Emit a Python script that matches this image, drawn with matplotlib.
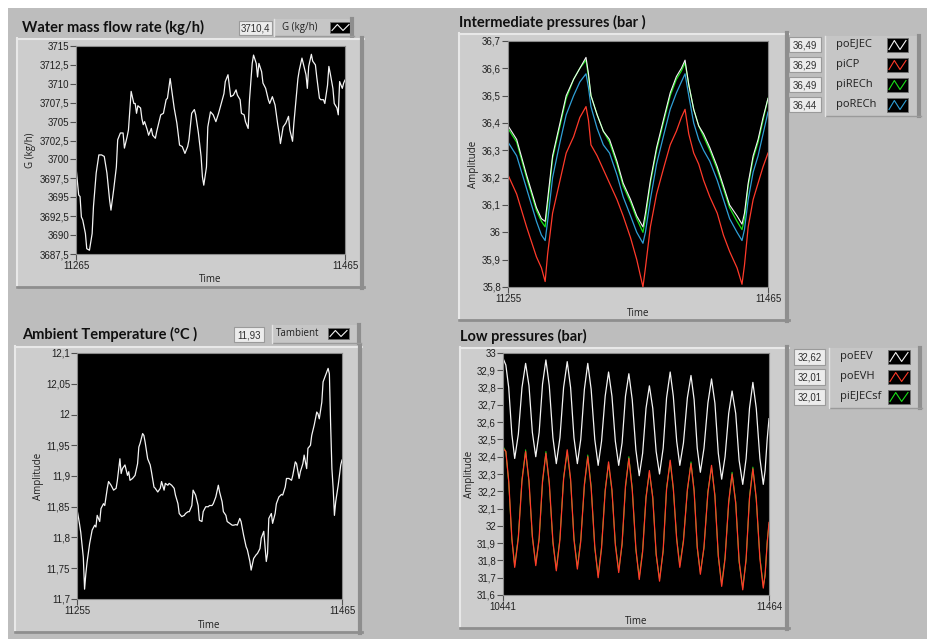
import numpy as np
import matplotlib.pyplot as plt
from matplotlib.patches import Rectangle
from matplotlib.ticker import FuncFormatter

# --------------- DATA ---------------
# Water mass flow rate
t_flow = [11265, 11267, 11268, 11269, 11270, 11272, 11273, 11275, 11277, 11278,
          11280, 11282, 11284, 11286, 11288, 11290, 11291, 11293, 11295, 11296,
          11298, 11300, 11301, 11303, 11304, 11306, 11308, 11309, 11310, 11311,
          11313, 11314, 11315, 11316, 11318, 11319, 11321, 11322, 11324, 11325,
          11327, 11328, 11330, 11332, 11333, 11335, 11336, 11338, 11340, 11342,
          11344, 11346, 11348, 11349, 11351, 11353, 11354, 11356, 11358, 11359,
          11360, 11362, 11363, 11365, 11367, 11369, 11371, 11373, 11375, 11376,
          11378, 11379, 11380, 11382, 11384, 11385, 11387, 11388, 11390, 11391,
          11393, 11394, 11396, 11397, 11399, 11400, 11401, 11403, 11404, 11406,
          11408, 11409, 11411, 11413, 11415, 11416, 11417, 11419, 11421, 11423,
          11424, 11426, 11427, 11429, 11430, 11431, 11433, 11435, 11436, 11437,
          11438, 11440, 11441, 11443, 11444, 11446, 11447, 11449, 11450, 11452,
          11453, 11454, 11456, 11457, 11459, 11460, 11461, 11463, 11464, 11465]
g_flow = [3699.0, 3695.3, 3695.1, 3692.4, 3692.0, 3690.2, 3688.2, 3688.0, 3690.2, 3693.8,
          3698.2, 3700.6, 3700.6, 3700.4, 3698.2, 3694.6, 3693.3, 3696.0, 3699.0, 3702.6,
          3703.5, 3703.5, 3701.5, 3703.0, 3703.9, 3709.0, 3707.4, 3707.4, 3706.1, 3707.1,
          3706.8, 3705.4, 3704.6, 3705.0, 3703.9, 3703.2, 3704.1, 3703.2, 3702.8, 3703.7,
          3705.2, 3705.9, 3706.1, 3707.9, 3708.1, 3710.7, 3709.4, 3706.8, 3704.8, 3701.9,
          3701.7, 3700.8, 3701.7, 3702.6, 3706.1, 3706.6, 3705.9, 3703.5, 3700.4, 3697.7,
          3696.6, 3699.0, 3704.3, 3706.3, 3705.9, 3705.0, 3706.1, 3707.4, 3708.7, 3710.3,
          3711.2, 3709.8, 3708.3, 3708.5, 3709.2, 3708.5, 3707.9, 3706.1, 3705.9, 3705.0,
          3704.1, 3707.9, 3712.7, 3713.8, 3712.7, 3710.9, 3712.7, 3711.6, 3710.1, 3709.4,
          3707.9, 3707.4, 3708.3, 3707.2, 3704.6, 3703.5, 3702.1, 3704.3, 3704.8, 3705.7,
          3703.9, 3702.4, 3704.8, 3708.7, 3710.7, 3711.8, 3713.4, 3711.9, 3711.2, 3709.4,
          3712.3, 3713.9, 3713.0, 3712.5, 3710.9, 3708.1, 3707.9, 3707.9, 3707.4, 3709.8,
          3712.3, 3711.4, 3709.4, 3707.4, 3706.8, 3705.9, 3710.3, 3709.4, 3710.1, 3710.5]

# Intermediate pressures
t_inter = [11255, 11262, 11270, 11278, 11282, 11285, 11287, 11291, 11297, 11302,
           11308, 11313, 11318, 11320, 11322, 11327, 11332, 11337, 11343, 11348,
           11354, 11359, 11364, 11366, 11370, 11375, 11381, 11386, 11391, 11395,
           11398, 11401, 11405, 11409, 11413, 11418, 11424, 11429, 11434, 11440,
           11444, 11446, 11449, 11453, 11457, 11461, 11465]
po_ejec = [36.39, 36.34, 36.21, 36.09, 36.05, 36.04, 36.12, 36.28, 36.40, 36.50,
           36.56, 36.60, 36.64, 36.58, 36.50, 36.43, 36.37, 36.34, 36.26, 36.18,
           36.12, 36.06, 36.02, 36.07, 36.19, 36.31, 36.42, 36.51, 36.57, 36.60,
           36.63, 36.54, 36.45, 36.39, 36.36, 36.31, 36.24, 36.17, 36.10, 36.06,
           36.03, 36.07, 36.18, 36.28, 36.34, 36.42, 36.49]
pi_cp = [36.21, 36.14, 36.02, 35.91, 35.87, 35.82, 35.92, 36.07, 36.19, 36.29,
         36.35, 36.42, 36.46, 36.41, 36.32, 36.28, 36.23, 36.18, 36.12, 36.06,
         35.98, 35.90, 35.80, 35.87, 36.02, 36.14, 36.24, 36.32, 36.37, 36.42,
         36.45, 36.36, 36.29, 36.25, 36.19, 36.13, 36.07, 35.99, 35.93, 35.87,
         35.81, 35.88, 36.02, 36.12, 36.18, 36.24, 36.29]
pi_rech = [36.38, 36.33, 36.20, 36.08, 36.04, 36.02, 36.10, 36.27, 36.39, 36.49,
           36.56, 36.60, 36.63, 36.57, 36.50, 36.43, 36.37, 36.33, 36.25, 36.17,
           36.11, 36.05, 36.00, 36.05, 36.18, 36.30, 36.41, 36.50, 36.56, 36.59,
           36.62, 36.54, 36.45, 36.39, 36.35, 36.30, 36.23, 36.16, 36.09, 36.04,
           36.01, 36.05, 36.17, 36.27, 36.33, 36.41, 36.49]
po_rech = [36.33, 36.28, 36.16, 36.04, 35.99, 35.97, 36.04, 36.20, 36.33, 36.43,
           36.50, 36.55, 36.58, 36.53, 36.46, 36.38, 36.32, 36.29, 36.21, 36.13,
           36.06, 36.00, 35.96, 36.00, 36.12, 36.25, 36.36, 36.45, 36.51, 36.55,
           36.58, 36.50, 36.40, 36.34, 36.30, 36.26, 36.19, 36.12, 36.05, 36.00,
           35.97, 36.01, 36.12, 36.22, 36.28, 36.36, 36.44]

# Ambient temperature
t_amb = [11255, 11257, 11258, 11260, 11261, 11262, 11263, 11265, 11267, 11269,
         11270, 11271, 11273, 11274, 11276, 11277, 11279, 11280, 11282, 11284,
         11286, 11287, 11289, 11290, 11291, 11293, 11295, 11296, 11297, 11299,
         11301, 11303, 11304, 11305, 11307, 11308, 11309, 11311, 11313, 11314,
         11316, 11317, 11319, 11321, 11322, 11324, 11325, 11327, 11328, 11330,
         11332, 11333, 11335, 11336, 11338, 11340, 11341, 11343, 11344, 11346,
         11347, 11349, 11351, 11352, 11354, 11355, 11357, 11359, 11360, 11362,
         11363, 11365, 11367, 11368, 11370, 11371, 11373, 11374, 11376, 11378,
         11379, 11381, 11382, 11384, 11385, 11387, 11389, 11390, 11392, 11393,
         11395, 11397, 11398, 11400, 11401, 11403, 11405, 11406, 11407, 11409,
         11410, 11412, 11413, 11415, 11417, 11418, 11420, 11421, 11423, 11425,
         11426, 11428, 11429, 11431, 11432, 11434, 11435, 11437, 11438, 11440,
         11441, 11443, 11445, 11446, 11447, 11449, 11450, 11452, 11454, 11455,
         11456, 11457, 11458, 11459, 11460, 11462, 11464, 11465]
t_ambient = [11.846, 11.822, 11.808, 11.768, 11.716, 11.741, 11.760, 11.790, 11.812, 11.820,
             11.817, 11.836, 11.826, 11.847, 11.855, 11.852, 11.880, 11.891, 11.885, 11.877,
             11.880, 11.893, 11.928, 11.904, 11.912, 11.918, 11.901, 11.907, 11.893, 11.896,
             11.901, 11.920, 11.947, 11.953, 11.969, 11.966, 11.955, 11.928, 11.918, 11.907,
             11.882, 11.880, 11.874, 11.880, 11.891, 11.877, 11.888, 11.885, 11.888, 11.885,
             11.880, 11.869, 11.855, 11.839, 11.834, 11.836, 11.839, 11.842, 11.842, 11.852,
             11.877, 11.869, 11.852, 11.828, 11.826, 11.842, 11.850, 11.850, 11.852, 11.852,
             11.855, 11.866, 11.885, 11.874, 11.858, 11.842, 11.836, 11.826, 11.823, 11.820,
             11.820, 11.821, 11.820, 11.831, 11.826, 11.804, 11.785, 11.780, 11.761, 11.747,
             11.766, 11.772, 11.774, 11.782, 11.799, 11.810, 11.761, 11.774, 11.831, 11.839,
             11.823, 11.839, 11.855, 11.866, 11.870, 11.869, 11.882, 11.896, 11.896, 11.893,
             11.901, 11.923, 11.920, 11.896, 11.907, 11.920, 11.934, 11.912, 11.945, 11.950,
             11.966, 11.983, 12.004, 12.001, 11.993, 12.020, 12.053, 12.064, 12.075, 12.066,
             11.983, 11.912, 11.880, 11.836, 11.858, 11.885, 11.918, 11.926]

# Low pressures
t_low = [10441, 10452, 10463, 10475, 10486, 10500, 10514, 10528, 10541, 10554,
         10567, 10580, 10593, 10606, 10619, 10633, 10646, 10660, 10674, 10688,
         10701, 10714, 10727, 10740, 10754, 10767, 10780, 10794, 10807, 10820,
         10834, 10847, 10860, 10873, 10886, 10899, 10912, 10925, 10938, 10952,
         10965, 10978, 10991, 11004, 11017, 11030, 11043, 11057, 11070, 11084,
         11096, 11109, 11121, 11135, 11150, 11164, 11176, 11188, 11200, 11214,
         11229, 11243, 11256, 11269, 11282, 11295, 11309, 11322, 11336, 11349,
         11363, 11376, 11389, 11402, 11415, 11429, 11442, 11449, 11457, 11464]
po_eev = [32.97, 32.93, 32.80, 32.53, 32.39, 32.53, 32.80, 32.94, 32.81, 32.54,
          32.40, 32.54, 32.82, 32.96, 32.81, 32.51, 32.36, 32.51, 32.80, 32.95,
          32.80, 32.51, 32.36, 32.50, 32.79, 32.94, 32.79, 32.50, 32.35, 32.49,
          32.75, 32.89, 32.75, 32.49, 32.35, 32.48, 32.75, 32.88, 32.73, 32.44,
          32.29, 32.42, 32.68, 32.81, 32.68, 32.43, 32.30, 32.45, 32.74, 32.89,
          32.75, 32.49, 32.35, 32.48, 32.74, 32.87, 32.73, 32.45, 32.31, 32.45,
          32.71, 32.85, 32.71, 32.42, 32.27, 32.40, 32.65, 32.78, 32.65, 32.38,
          32.24, 32.39, 32.68, 32.83, 32.68, 32.39, 32.24, 32.32, 32.50, 32.62]
po_evh = [32.45, 32.43, 32.26, 31.93, 31.76, 31.93, 32.26, 32.43, 32.26, 31.94,
          31.77, 31.93, 32.26, 32.42, 32.25, 31.91, 31.74, 31.92, 32.27, 32.44,
          32.27, 31.92, 31.75, 31.91, 32.24, 32.40, 32.22, 31.88, 31.70, 31.87,
          32.20, 32.37, 32.21, 31.89, 31.73, 31.90, 32.23, 32.39, 32.21, 31.87,
          31.69, 31.85, 32.16, 32.32, 32.16, 31.84, 31.68, 31.86, 32.21, 32.38,
          32.22, 31.92, 31.76, 31.91, 32.21, 32.36, 32.20, 31.88, 31.72, 31.88,
          32.19, 32.35, 32.17, 31.83, 31.65, 31.81, 32.14, 32.30, 32.13, 31.80,
          31.63, 31.81, 32.16, 32.33, 32.16, 31.81, 31.64, 31.72, 31.90, 32.02]
pi_ejecsf = [32.46, 32.43, 32.25, 31.92, 31.77, 31.94, 32.27, 32.44, 32.25, 31.93,
             31.78, 31.92, 32.25, 32.43, 32.24, 31.90, 31.75, 31.93, 32.28, 32.43,
             32.26, 31.93, 31.76, 31.92, 32.23, 32.41, 32.23, 31.87, 31.71, 31.88,
             32.21, 32.36, 32.20, 31.90, 31.74, 31.89, 32.22, 32.40, 32.22, 31.86,
             31.70, 31.86, 32.17, 32.31, 32.17, 31.83, 31.69, 31.85, 32.22, 32.37,
             32.21, 31.93, 31.77, 31.92, 32.20, 32.37, 32.21, 31.87, 31.73, 31.87,
             32.20, 32.34, 32.18, 31.82, 31.66, 31.82, 32.13, 32.31, 32.14, 31.79,
             31.64, 31.80, 32.17, 32.34, 32.15, 31.82, 31.65, 31.71, 31.91, 32.01]

# --------------- STYLE ---------------
WHITE, RED, GREEN, BLUE = '#f4f4f4', '#ff3a2a', '#19e019', '#2f9fd6'
W, H = 928, 639
tick_font = ['Liberation Sans', 'DejaVu Sans']
plt.rcParams['font.family'] = ['Open Sans', 'DejaVu Sans']

fig = plt.figure(figsize=(W / 100, H / 100), dpi=100)
fig.patch.set_facecolor('white')
bg = fig.add_axes([0, 0, 1, 1])
bg.set_xlim(0, W)
bg.set_ylim(H, 0)
bg.axis('off')
bg.add_patch(Rectangle((8, 8), W - 8, H - 8, facecolor='#bdbdbd', edgecolor='none'))

comma = FuncFormatter(lambda v, p: ('%g' % round(v, 4)).replace('.', ','))


def px_axes(x0, y0, x1, y1):
    return fig.add_axes([x0 / W, 1 - y1 / H, (x1 - x0) / W, (y1 - y0) / H])


def frame(x0, y0, x1, y1):
    bg.add_patch(Rectangle((x0, y0), x1 - x0, y1 - y0, facecolor='#cdcdcd', edgecolor='none'))
    bg.plot([x0, x1], [y0 + 0.5, y0 + 0.5], color='#e8e8e8', lw=1.5)
    bg.plot([x0 + 0.5, x0 + 0.5], [y0, y1], color='#e8e8e8', lw=1.5)
    bg.plot([x1 - 1.5, x1 - 1.5], [y0, y1], color='#8e8e8e', lw=3)
    bg.plot([x0, x1], [y1 - 1, y1 - 1], color='#8e8e8e', lw=2)


def indicator(x0, y0, x1, y1, txt):
    bg.add_patch(Rectangle((x0, y0), x1 - x0, y1 - y0, facecolor='#ececec',
                           edgecolor='#9a9a9a', lw=0.8))
    bg.text((x0 + x1) / 2, (y0 + y1) / 2 + 0.5, txt, ha='center', va='center',
            fontsize=7, color='#303030', family=tick_font)


def icon(x0, y0, x1, y1, color):
    bg.add_patch(Rectangle((x0, y0), x1 - x0, y1 - y0, facecolor='black', edgecolor='#707070', lw=0.6))
    w = x1 - x0
    bg.plot([x0 + 2, x0 + w * 0.35, x0 + w * 0.62, x1 - 2],
            [y1 - 2.5, y0 + 2.5, y1 - 2.5, y0 + 2.5], color=color, lw=0.8)


def legend_box(x0, y0, x1, y1):
    bg.add_patch(Rectangle((x0, y0), x1 - x0, y1 - y0, facecolor='#c6c6c6', edgecolor='none'))
    bg.plot([x1 - 1.5, x1 - 1.5], [y0, y1], color='#8e8e8e', lw=3)
    bg.plot([x0, x1], [y1 - 0.5, y1 - 0.5], color='#9a9a9a', lw=1)
    bg.plot([x0 + 0.5, x0 + 0.5], [y0, y1], color='#e4e4e4', lw=1)


def graph(box, xr, yr, ystep, ylabel, ylab_x, xlab_y):
    ax = px_axes(*box)
    ax.set_facecolor('black')
    ax.set_xlim(xr)
    ax.set_ylim(yr)
    ax.set_xticks(xr)
    ax.set_yticks(np.round(np.arange(yr[0], yr[1] + ystep / 2, ystep), 4))
    ax.yaxis.set_major_formatter(comma)
    ax.xaxis.set_major_formatter(FuncFormatter(lambda v, p: '%d' % v))
    ax.tick_params(length=4, width=0.8, color='#505050', pad=1, labelsize=7, labelcolor='#202020')
    for lab in ax.get_xticklabels() + ax.get_yticklabels():
        lab.set_family(tick_font)
    for s in ax.spines.values():
        s.set_color('#8a8a8a')
        s.set_linewidth(0.8)
    x0, y0, x1, y1 = box
    bg.text((x0 + x1) / 2, xlab_y, 'Time', ha='center', va='center', fontsize=7, color='#202020')
    bg.text(ylab_x, (y0 + y1) / 2, ylabel, ha='center', va='center', rotation=90,
            fontsize=7, color='#202020')
    return ax


def title(x, y, txt):
    bg.text(x, y, txt, ha='left', va='center', fontsize=10.5, fontweight='bold', color='#101010',
            family=['Lato', 'DejaVu Sans'])


# --------------- PANEL 1: Water mass flow rate ---------------
title(22, 27, 'Water mass flow rate (kg/h)')
indicator(239, 21, 272, 35, '3710,4')
legend_box(274, 19, 354, 36)
bg.text(300, 27.5, 'G (kg/h)', ha='center', va='center', fontsize=7, color='#202020')
icon(330, 22, 351, 33, WHITE)
frame(17, 38, 364, 288)
ax1 = graph((76, 46, 345, 254), (11265, 11465), (3687.5, 3715), 2.5, 'G (kg/h)', 31, 279)
ax1.plot(t_flow, g_flow, color=WHITE, lw=0.9)

# --------------- PANEL 2: Intermediate pressures ---------------
title(459, 22, 'Intermediate pressures (bar )')
frame(459, 33, 789, 321)
ax2 = graph((508, 41, 768, 287), (11255, 11465), (35.8, 36.7), 0.1, 'Amplitude', 474, 313)
ax2.plot(t_inter, pi_cp, color=RED, lw=0.9)
ax2.plot(t_inter, po_rech, color=BLUE, lw=0.9)
ax2.plot(t_inter, pi_rech, color=GREEN, lw=0.9)
ax2.plot(t_inter, po_ejec, color=WHITE, lw=0.8)
names2 = ['poEJEC', 'piCP', 'piRECh', 'poRECh']
vals2 = ['36,49', '36,29', '36,49', '36,44']
cols2 = [WHITE, RED, GREEN, BLUE]
legend_box(825, 36, 921, 116)
for i, (n, v, c) in enumerate(zip(names2, vals2, cols2)):
    yc = 45 + 20 * i
    indicator(789, yc - 8, 821, yc + 7, v)
    bg.text(836, yc, n, ha='left', va='center', fontsize=8, color='#202020')
    icon(887, yc - 7, 908, yc + 7, c)

# --------------- PANEL 3: Ambient temperature ---------------
title(22, 334, 'Ambient Temperature (°C )')
indicator(234, 327, 264, 342, '11,93')
legend_box(272, 325, 361, 343)
bg.text(298, 333.5, 'Tambient', ha='center', va='center', fontsize=7, color='#202020')
icon(328, 328, 349, 339, WHITE)
frame(15, 346, 362, 633)
ax3 = graph((77, 353, 342, 599), (11255, 11465), (11.7, 12.1), 0.05, 'Amplitude', 39, 625)
ax3.plot(t_amb, t_ambient, color=WHITE, lw=0.9)

# --------------- PANEL 4: Low pressures ---------------
title(460, 336, 'Low pressures (bar)')
frame(460, 347, 789, 629)
ax4 = graph((503, 353, 769, 595), (10441, 11464), (31.6, 33.0), 0.1, 'Amplitude', 470, 621)
ax4.plot(t_low, po_eev, color=WHITE, lw=0.9)
ax4.plot(t_low, pi_ejecsf, color=GREEN, lw=0.7)
ax4.plot(t_low, po_evh, color=RED, lw=0.9)
names4 = ['poEEV', 'poEVH', 'piEJECsf']
vals4 = ['32,62', '32,01', '32,01']
cols4 = [WHITE, RED, GREEN]
legend_box(829, 348, 922, 408)
for i, (n, v, c) in enumerate(zip(names4, vals4, cols4)):
    yc = 357 + 20 * i
    indicator(794, yc - 8, 825, yc + 8, v)
    bg.text(840, yc, n, ha='left', va='center', fontsize=8, color='#202020')
    icon(888, yc - 7, 910, yc + 7, c)

fig.savefig('out.png', dpi=100)
